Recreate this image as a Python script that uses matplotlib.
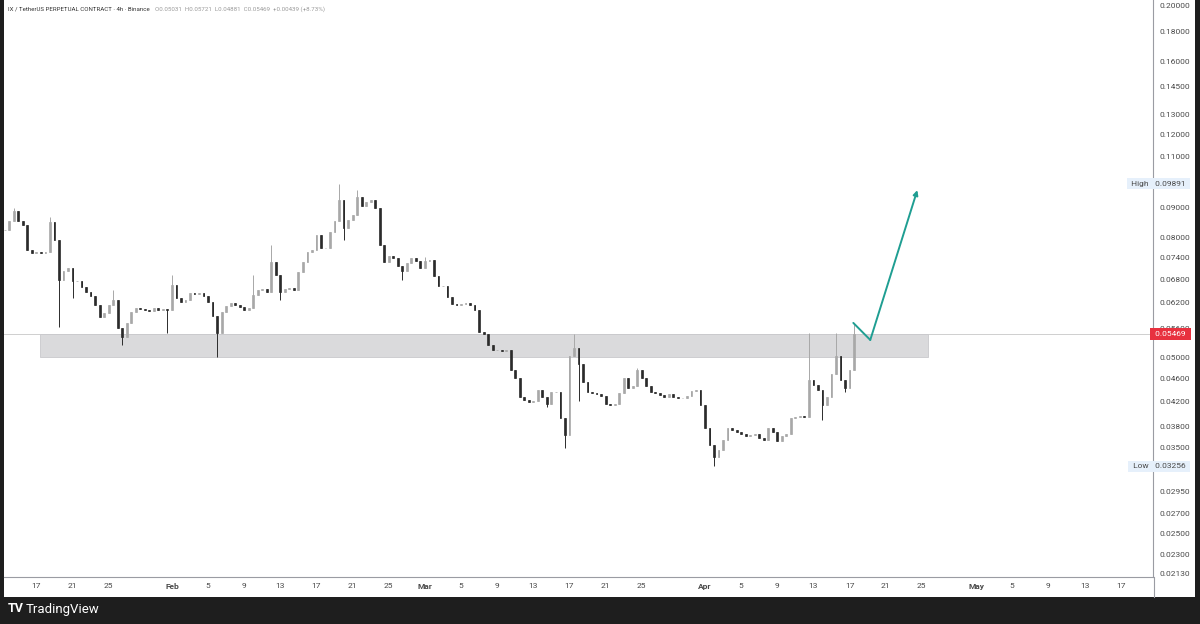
import numpy as np
import pandas as pd
import matplotlib
matplotlib.use("Agg")
import matplotlib.pyplot as plt
import matplotlib.dates as mdates
from matplotlib.patches import Rectangle
from matplotlib.lines import Line2D

# 12h closes, first candle 2025-01-13 12:00
start = "2025-01-13 12:00"
closes = [
    0.0825, 0.0854, 0.0888, 0.0854, 0.0841, 0.0762, 0.0753, 0.0756, 0.0753, 0.0756,
    0.0852, 0.0793, 0.0677, 0.0703, 0.0710, 0.0675, 0.0675, 0.0659, 0.0646, 0.0636,
    0.0614, 0.0586, 0.0595, 0.0614, 0.0626, 0.0561, 0.0541, 0.0572, 0.0597, 0.0607,
    0.0605, 0.0602, 0.0600, 0.0607, 0.0602, 0.0605, 0.0602, 0.0664, 0.0631, 0.0621,
    0.0626, 0.0644, 0.0641, 0.0644, 0.0636, 0.0621, 0.0588, 0.0550, 0.0597, 0.0612,
    0.0619, 0.0614, 0.0609, 0.0602, 0.0607, 0.0639, 0.0651, 0.0654, 0.0646, 0.0728,
    0.0691, 0.0646, 0.0654, 0.0656, 0.0651, 0.0699, 0.0728, 0.0756, 0.0762, 0.0808,
    0.0768, 0.0768, 0.0818, 0.0854, 0.0928, 0.0831, 0.0858, 0.0874, 0.0939, 0.0908,
    0.0921, 0.0928, 0.0899, 0.0777, 0.0728, 0.0745, 0.0738, 0.0716, 0.0702, 0.0724,
    0.0738, 0.0730, 0.0710, 0.0730, 0.0733, 0.0688, 0.0661, 0.0661, 0.0634, 0.0617,
    0.0614, 0.0617, 0.0619, 0.0614, 0.0602, 0.0553, 0.0548, 0.0524, 0.0514, 0.0514,
    0.0512, 0.0514, 0.0475, 0.0461, 0.0428, 0.0422, 0.0419, 0.0420, 0.0440, 0.0428,
    0.0416, 0.0436, 0.0436, 0.0394, 0.0368, 0.0503, 0.0518, 0.0487, 0.0453, 0.0436,
    0.0434, 0.0433, 0.0429, 0.0416, 0.0414, 0.0416, 0.0434, 0.0461, 0.0443, 0.0446,
    0.0475, 0.0461, 0.0446, 0.0436, 0.0434, 0.0431, 0.0427, 0.0432, 0.0427, 0.0426,
    0.0426, 0.0429, 0.0437, 0.0439, 0.0414, 0.0378, 0.0354, 0.0337, 0.0347, 0.0361,
    0.0378, 0.0375, 0.0372, 0.0370, 0.0366, 0.0368, 0.0370, 0.0363, 0.0361, 0.0378,
    0.0372, 0.0359, 0.0366, 0.0369, 0.0394, 0.0395, 0.0397, 0.0395, 0.0457, 0.0448,
    0.0439, 0.0414, 0.0427, 0.0468, 0.0502, 0.0457, 0.0443, 0.0475, 0.05469,
]

# wicks that stick out of the bodies
high_idx = [2, 10, 24, 37, 55, 59, 74, 78, 93, 126, 140, 178, 184, 188]
high_val = [0.0899, 0.0868, 0.0651, 0.0691, 0.0691, 0.0777, 0.09891, 0.0965,
            0.0742, 0.0547, 0.0480, 0.0550, 0.0550, 0.05721]
low_idx = [12, 15, 26, 36, 47, 61, 75, 88, 120, 124, 127, 157, 181, 186]
low_val = [0.0563, 0.0631, 0.0524, 0.0550, 0.0500, 0.0626, 0.0793, 0.0677,
           0.0411, 0.0350, 0.0420, 0.03256, 0.0390, 0.0436]

zone_low, zone_high = 0.0500, 0.0548
zone_start, zone_end = "2025-01-17 10:00", "2025-04-25 16:00"

arrow_times = ["2025-04-17 10:00", "2025-04-19 07:00", "2025-04-24 12:00"]
arrow_prices = [0.05721, 0.0535, 0.0965]

last_price = 0.05469
high_price = 0.09891
low_price = 0.03256

price_ticks = [0.2, 0.18, 0.16, 0.145, 0.13, 0.12, 0.11, 0.09, 0.08, 0.074, 0.068,
               0.062, 0.056, 0.05, 0.046, 0.042, 0.038, 0.035, 0.0295, 0.027,
               0.025, 0.023, 0.0213]
date_ticks = ["2025-01-17", "2025-01-21", "2025-01-25", "2025-02-01", "2025-02-05",
              "2025-02-09", "2025-02-13", "2025-02-17", "2025-02-21", "2025-02-25",
              "2025-03-01", "2025-03-05", "2025-03-09", "2025-03-13", "2025-03-17",
              "2025-03-21", "2025-03-25", "2025-04-01", "2025-04-05", "2025-04-09",
              "2025-04-13", "2025-04-17", "2025-04-21", "2025-04-25", "2025-05-01",
              "2025-05-05", "2025-05-09", "2025-05-13", "2025-05-17"]
date_labels = ["17", "21", "25", "Feb", "5", "9", "13", "17", "21", "25", "Mar", "5",
               "9", "13", "17", "21", "25", "Apr", "5", "9", "13", "17", "21", "25",
               "May", "5", "9", "13", "17"]

up_col = "#a8a8a8"
down_col = "#2b2b2b"
teal = "#1f9e92"
text_col = "#4a4a4a"

plt.rcParams["font.family"] = ["Roboto", "DejaVu Sans"]

W, H = 1200, 624
fig = plt.figure(figsize=(12, 6.24), dpi=100)
fig.patch.set_facecolor("#1e1e1e")
fig.add_artist(Rectangle((4 / W, 27 / H), 1191 / W, 597 / H, transform=fig.transFigure,
                         facecolor="white", edgecolor="none", zorder=0))

ax = fig.add_axes([4 / W, 47 / H, 1149 / W, 577 / H])
ax.set_facecolor("white")
ax.set_yscale("log")
ax.set_ylim(0.02104, 0.20398)
ax.set_xlim(pd.Timestamp("2025-01-13 10:00"), pd.Timestamp("2025-05-20 14:00"))

# candles
t = pd.date_range(start, periods=len(closes), freq="12h")
x = mdates.date2num(t)
c = np.array(closes)
o = np.r_[c[0], c[:-1]]
body_hi = np.maximum(o, c)
body_lo = np.minimum(o, c)
wick_hi = body_hi.copy()
wick_lo = body_lo.copy()
wick_hi[high_idx] = np.maximum(wick_hi[high_idx], high_val)
wick_lo[low_idx] = np.minimum(wick_lo[low_idx], low_val)
cols = np.where(c >= o, up_col, down_col)
ax.vlines(x, wick_lo, wick_hi, colors=cols, lw=0.7, zorder=3)
ax.bar(x, body_hi - body_lo, bottom=body_lo, width=0.2, color=cols,
       edgecolor=cols, lw=0.5, zorder=3)

# support zone and last price line
z0, z1 = mdates.date2num(pd.Timestamp(zone_start)), mdates.date2num(pd.Timestamp(zone_end))
ax.add_patch(Rectangle((z0, zone_low), z1 - z0, zone_high - zone_low,
                       facecolor="#dadadc", edgecolor="#c9c9cc", lw=0.6, zorder=2))
ax.axhline(last_price, color="#cfcfcf", lw=0.7, zorder=1)

# projected move
at = [pd.Timestamp(s) for s in arrow_times]
ax.plot(at[:2], arrow_prices[:2], color=teal, lw=1.4, zorder=4, solid_capstyle="round")
ax.annotate("", xy=(at[2], arrow_prices[2]), xytext=(at[1], arrow_prices[1]),
            arrowprops=dict(arrowstyle="-|>", color=teal, lw=1.4, shrinkA=0, shrinkB=0,
                            mutation_scale=7, fill=False), zorder=4)

# axes styling
for s in ["top", "left"]:
    ax.spines[s].set_visible(False)
for s in ["right", "bottom"]:
    ax.spines[s].set_color("#9a9ca3")
    ax.spines[s].set_linewidth(0.8)
fig.add_artist(Line2D([1153.5 / W, 1153.5 / W], [27 / H, 47 / H], transform=fig.transFigure,
                      color="#9a9ca3", lw=0.8))

ax.yaxis.tick_right()
ax.set_yticks(price_ticks)
ax.set_yticklabels([f"{p:.5f}" for p in price_ticks])
ax.yaxis.set_minor_locator(matplotlib.ticker.NullLocator())
ax.tick_params(axis="y", length=0, pad=5, labelsize=6, labelcolor=text_col)

ax.set_xticks([pd.Timestamp(d) for d in date_ticks])
ax.set_xticklabels(date_labels)
ax.tick_params(axis="x", length=0, pad=4, labelsize=6, labelcolor=text_col)
for lab in ax.get_xticklabels():
    if lab.get_text() in ("Feb", "Mar", "Apr", "May"):
        lab.set_fontweight("bold")

ytr = ax.get_yaxis_transform()
# price scale badges
ax.text(1.0, last_price, " 0.05469 ", transform=ytr, ha="left", va="center", fontsize=6,
        color="white", zorder=6, clip_on=False,
        bbox=dict(boxstyle="square,pad=0.35", facecolor="#e8313f", edgecolor="none"))
for name, val in [("High", high_price), ("Low", low_price)]:
    ax.text(1.0, val, f" {val:.5f} ", transform=ytr, ha="left", va="center", fontsize=6,
            color=text_col, zorder=6, clip_on=False,
            bbox=dict(boxstyle="square,pad=0.3", facecolor="#e6f0fb", edgecolor="none"))
    ax.text(0.998, val, f" {name} ", transform=ytr, ha="right", va="center", fontsize=6,
            color=text_col, zorder=6,
            bbox=dict(boxstyle="square,pad=0.3", facecolor="#e6f0fb", edgecolor="none"))

# header: title, then OHLC values right after it
title = fig.text(8 / W, 1 - 9 / H, "IX / TetherUS PERPETUAL CONTRACT · 4h · Binance",
                 fontsize=4.4, color="#333333", va="center")
fig.canvas.draw()
bb = title.get_window_extent()
fig.text(bb.x1 / W + 5 / W, 1 - 9 / H,
         "O0.05031  H0.05721  L0.04881  C0.05469  +0.00439 (+8.73%)",
         fontsize=4.4, color="#9a9a9a", va="center")

# footer logo
fig.text(8 / W, 15 / H, "TV", fontsize=9, color="white", fontweight="bold", va="center")
fig.text(26 / W, 15 / H, "TradingView", fontsize=9.5, color="white", va="center")

fig.savefig("out.png", dpi=100, facecolor=fig.get_facecolor())
